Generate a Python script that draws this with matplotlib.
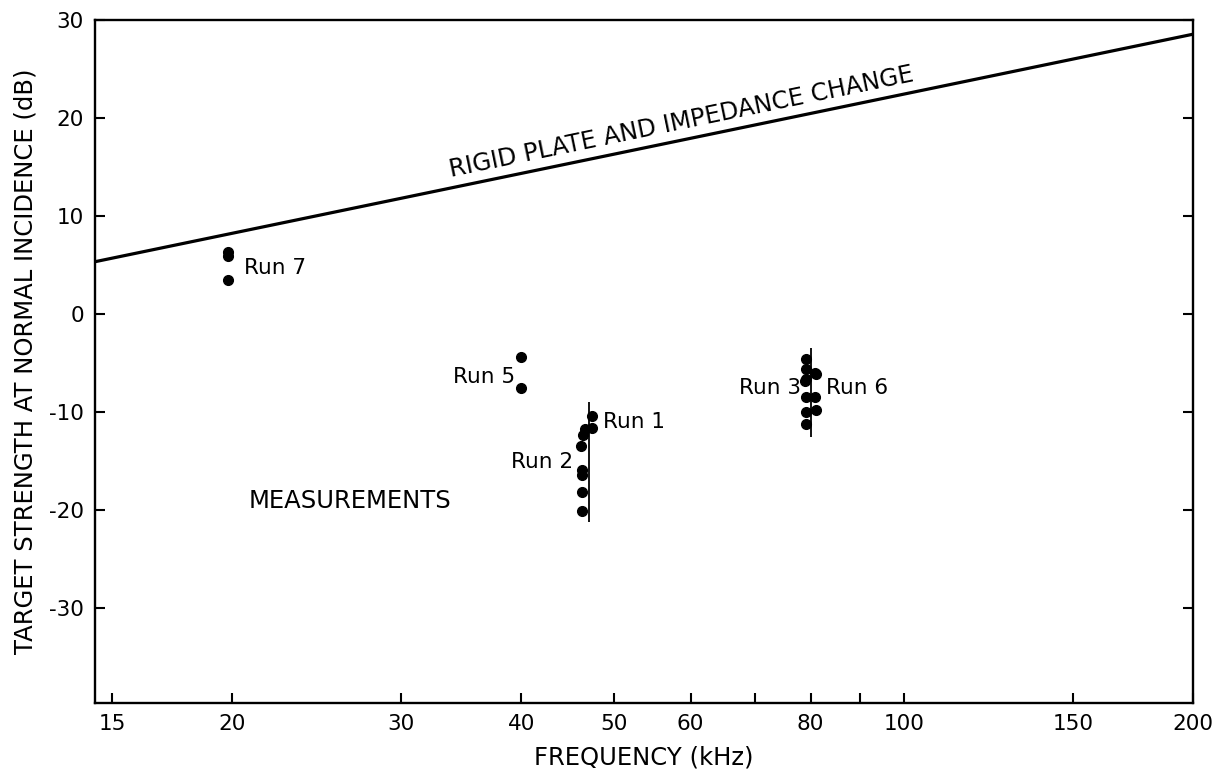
import matplotlib.pyplot as plt
from matplotlib.ticker import FixedLocator, NullLocator

# theory curve: rigid plate and impedance change (straight on log-f axis)
theory_f = [14.4, 200]
theory_ts = [5.3, 28.5]

# measured target strength, kHz / dB
run7_f = [19.8, 19.8, 19.8]
run7_ts = [6.3, 5.9, 3.4]
run5_f = [40.0, 40.0]
run5_ts = [-4.4, -7.6]
run1_f = [47.4, 47.4]
run1_ts = [-10.4, -11.7]
run2_f = [46.6, 46.4, 46.2, 46.3, 46.3, 46.3, 46.3]
run2_ts = [-11.8, -12.4, -13.5, -15.9, -16.4, -18.2, -20.1]
run3_f = [79.1, 79.1, 79.1, 79.0, 79.1, 79.1, 79.1]
run3_ts = [-4.6, -5.6, -6.7, -6.9, -8.5, -10.0, -11.2]
run6_f = [80.8, 81.0, 80.9, 81.0]
run6_ts = [-6.0, -6.2, -8.5, -9.8]

# vertical guide lines through the 47 and 80 kHz clusters
guide_f = [47.0, 80.0]
guide_lo = [-21.2, -12.6]
guide_hi = [-9.0, -3.5]

xticks = [15, 20, 30, 40, 50, 60, 70, 80, 90, 100, 150, 200]
xlabels = ["15", "20", "30", "40", "50", "60", "", "80", "", "100", "150", "200"]
yticks = [-30, -20, -10, 0, 10, 20, 30]

plt.rcParams['font.family'] = ['DejaVu Sans']
plt.rcParams['axes.unicode_minus'] = False
fs = 15.5     # run labels and tick labels
fs_caps = 17.5  # upper-case annotations and axis titles

fig = plt.figure(figsize=(12.3, 7.73), dpi=100)
ax = fig.add_axes([95/1230, 1 - 703/773, 1098/1230, 683.5/773])
ax.set_xscale('log')
ax.set_xlim(14.4, 200)
ax.set_ylim(-39.7, 30)

ax.plot(theory_f, theory_ts, color='black', lw=2.3, solid_capstyle='butt')

for f, lo, hi in zip(guide_f, guide_lo, guide_hi):
    ax.vlines(f, lo, hi, color='black', lw=1.3)

dot = dict(color='black', marker='o', ms=7, ls='none')
for f, ts in [(run7_f, run7_ts), (run5_f, run5_ts), (run1_f, run1_ts),
              (run2_f, run2_ts), (run3_f, run3_ts), (run6_f, run6_ts)]:
    ax.plot(f, ts, **dot)

ax.text(20.6, 4.7, "Run 7", fontsize=fs, va='center', ha='left')
ax.text(39.4, -6.5, "Run 5", fontsize=fs, va='center', ha='right')
ax.text(48.7, -11.0, "Run 1", fontsize=fs, va='center', ha='left')
ax.text(45.3, -15.1, "Run 2", fontsize=fs, va='center', ha='right')
ax.text(78.1, -7.6, "Run 3", fontsize=fs, va='center', ha='right')
ax.text(83.1, -7.6, "Run 6", fontsize=fs, va='center', ha='left')
ax.text(20.8, -19.1, "MEASUREMENTS", fontsize=fs_caps, va='center', ha='left')
# curve label sits just above the line, baseline parallel to it
ax.text(58.9, 18.8, "RIGID PLATE AND IMPEDANCE CHANGE", fontsize=fs_caps,
        va='baseline', ha='center', rotation=11.7, rotation_mode='anchor')

ax.xaxis.set_major_locator(FixedLocator(xticks))
ax.xaxis.set_minor_locator(NullLocator())
ax.set_xticklabels(xlabels)
ax.set_yticks(yticks)

ax.tick_params(axis='both', direction='in', length=7, width=1.5, labelsize=fs)
ax.tick_params(axis='y', right=True, pad=8)
ax.tick_params(axis='x', pad=8)
for s in ax.spines.values():
    s.set_linewidth(1.7)

ax.set_xlabel("FREQUENCY (kHz)", fontsize=fs_caps, labelpad=8)
ax.set_ylabel("TARGET STRENGTH AT NORMAL INCIDENCE (dB)", fontsize=fs_caps, labelpad=8)

fig.savefig("out.png", dpi=100)
